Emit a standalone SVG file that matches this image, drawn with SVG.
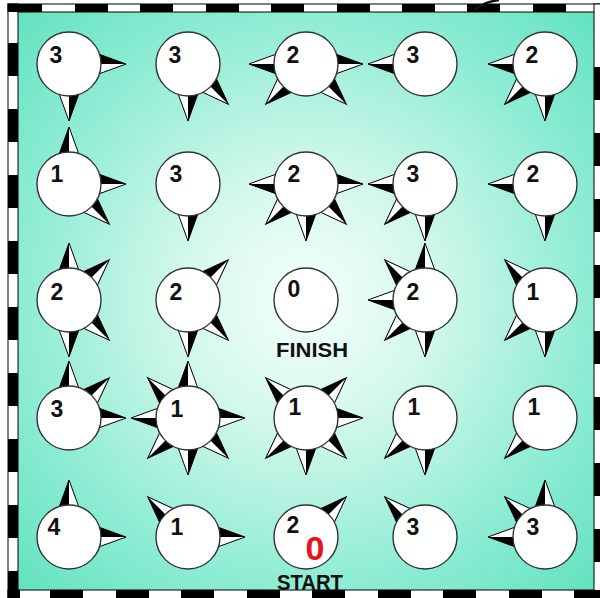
<svg xmlns="http://www.w3.org/2000/svg" xmlns:xlink="http://www.w3.org/1999/xlink" width="600" height="598" viewBox="0 0 600 598">
<style>
.b{fill:#000}
.w{fill:#fff}
.o{fill:none;stroke:#000;stroke-width:1;stroke-linejoin:miter}
.c{fill:#fff;stroke:#333;stroke-width:1.4}
.num{font-family:"Liberation Sans",Arial,sans-serif;font-weight:bold;font-size:23px;fill:#111;text-anchor:middle}
.lbl{font-family:"Liberation Sans",Arial,sans-serif;font-weight:bold;fill:#111;text-anchor:middle}
.dash{fill:#000}
.strip{fill:#fff;stroke:#000;stroke-width:1}
</style>
<defs>
<radialGradient id="bg" gradientUnits="userSpaceOnUse" cx="305" cy="300" r="410">
<stop offset="0" stop-color="#f6fffc"/>
<stop offset="0.3" stop-color="#d4f8ec"/>
<stop offset="0.7" stop-color="#8decd3"/>
<stop offset="1" stop-color="#62e2c0"/>
</radialGradient>
<g id="spk">
<polygon class="w" points="24,0 57,0 24,12"/>
<polygon class="b" points="24,-12 57,0 24,0"/>
<polygon class="o" points="24,-12 57,0 24,12"/>
</g>
</defs>
<rect x="0" y="0" width="600" height="598" fill="#fff"/>
<rect x="18" y="12" width="576" height="578" fill="url(#bg)"/>
<g id="frame">
<rect class="strip" x="8" y="4" width="600" height="8"/>
<rect class="strip" x="8" y="4" width="10" height="600"/>
<rect class="strip" x="8" y="590" width="600" height="12"/>
<rect class="strip" x="594" y="4" width="12" height="600"/>
<g class="dash">
<rect x="8" y="4" width="34" height="8"/>
<rect x="75" y="4" width="33" height="8"/>
<rect x="140" y="4" width="33" height="8"/>
<rect x="206" y="4" width="33" height="8"/>
<rect x="271" y="4" width="33" height="8"/>
<rect x="337" y="4" width="33" height="8"/>
<rect x="402" y="4" width="33" height="8"/>
<rect x="467" y="4" width="33" height="8"/>
<rect x="533" y="4" width="33" height="8"/>
<rect x="8" y="43" width="10" height="33"/>
<rect x="8" y="109" width="10" height="33"/>
<rect x="8" y="175" width="10" height="33"/>
<rect x="8" y="241" width="10" height="33"/>
<rect x="8" y="307" width="10" height="33"/>
<rect x="8" y="373" width="10" height="33"/>
<rect x="8" y="439" width="10" height="33"/>
<rect x="8" y="505" width="10" height="33"/>
<rect x="8" y="571" width="10" height="27"/>
<rect x="8" y="590" width="12" height="8"/>
<rect x="50" y="590" width="33" height="8"/>
<rect x="116" y="590" width="33" height="8"/>
<rect x="181" y="590" width="33" height="8"/>
<rect x="247" y="590" width="33" height="8"/>
<rect x="312" y="590" width="33" height="8"/>
<rect x="378" y="590" width="33" height="8"/>
<rect x="443" y="590" width="33" height="8"/>
<rect x="509" y="590" width="33" height="8"/>
<rect x="574" y="590" width="26" height="8"/>
<rect x="594" y="67" width="6" height="33"/>
<rect x="594" y="133" width="6" height="33"/>
<rect x="594" y="199" width="6" height="33"/>
<rect x="594" y="265" width="6" height="33"/>
<rect x="594" y="331" width="6" height="33"/>
<rect x="594" y="397" width="6" height="33"/>
<rect x="594" y="463" width="6" height="33"/>
<rect x="594" y="529" width="6" height="33"/>
</g>
<path d="M474,10 Q484,2 499,0" fill="none" stroke="#111" stroke-width="2.5"/>
</g>

<!-- Row 1 -->
<g id="n11" transform="translate(69,64)">
<use href="#spk" transform="rotate(0)"/><use href="#spk" transform="rotate(90)"/>
<circle class="c" r="32"/><text class="num" x="-13" y="-1">3</text></g>
<g id="n12" transform="translate(188,64)">
<use href="#spk" transform="rotate(90)"/><use href="#spk" transform="rotate(45)"/>
<circle class="c" r="32"/><text class="num" x="-13" y="-1">3</text></g>
<g id="n13" transform="translate(306,64)">
<use href="#spk" transform="rotate(180)"/><use href="#spk" transform="rotate(135)"/><use href="#spk" transform="rotate(45)"/><use href="#spk" transform="rotate(0)"/>
<circle class="c" r="32"/><text class="num" x="-13" y="-1">2</text></g>
<g id="n14" transform="translate(425,64)">
<use href="#spk" transform="rotate(180)"/>
<circle class="c" r="32"/><text class="num" x="-12" y="-1">3</text></g>
<g id="n15" transform="translate(545,64)">
<use href="#spk" transform="rotate(180)"/><use href="#spk" transform="rotate(135)"/><use href="#spk" transform="rotate(90)"/>
<circle class="c" r="32"/><text class="num" x="-13" y="-1">2</text></g>

<!-- Row 2 -->
<g id="n21" transform="translate(69,184)">
<use href="#spk" transform="rotate(270)"/><use href="#spk" transform="rotate(0)"/><use href="#spk" transform="rotate(45)"/>
<circle class="c" r="32"/><text class="num" x="-12" y="-2">1</text></g>
<g id="n22" transform="translate(188,184)">
<use href="#spk" transform="rotate(90)"/>
<circle class="c" r="32"/><text class="num" x="-12" y="-2">3</text></g>
<g id="n23" transform="translate(306,184)">
<use href="#spk" transform="rotate(180)"/><use href="#spk" transform="rotate(135)"/><use href="#spk" transform="rotate(90)"/><use href="#spk" transform="rotate(45)"/><use href="#spk" transform="rotate(0)"/>
<circle class="c" r="32"/><text class="num" x="-12" y="-2">2</text></g>
<g id="n24" transform="translate(425,184)">
<use href="#spk" transform="rotate(180)"/><use href="#spk" transform="rotate(135)"/><use href="#spk" transform="rotate(90)"/>
<circle class="c" r="32"/><text class="num" x="-12" y="-2">3</text></g>
<g id="n25" transform="translate(545,184)">
<use href="#spk" transform="rotate(180)"/><use href="#spk" transform="rotate(90)"/>
<circle class="c" r="32"/><text class="num" x="-12" y="-2">2</text></g>

<!-- Row 3 -->
<g id="n31" transform="translate(69,300)">
<use href="#spk" transform="rotate(270)"/><use href="#spk" transform="rotate(315)"/><use href="#spk" transform="rotate(45)"/><use href="#spk" transform="rotate(90)"/>
<circle class="c" r="32"/><text class="num" x="-12" y="0">2</text></g>
<g id="n32" transform="translate(188,300)">
<use href="#spk" transform="rotate(315)"/><use href="#spk" transform="rotate(45)"/><use href="#spk" transform="rotate(90)"/>
<circle class="c" r="32"/><text class="num" x="-12" y="0">2</text></g>
<g id="n33" transform="translate(306,300)">
<circle class="c" r="32"/><text class="num" x="-12" y="-3">0</text>
<text class="lbl" x="6" y="57" font-size="20" textLength="72" lengthAdjust="spacingAndGlyphs">FINISH</text></g>
<g id="n34" transform="translate(425,300)">
<use href="#spk" transform="rotate(270)"/><use href="#spk" transform="rotate(225)"/><use href="#spk" transform="rotate(180)"/><use href="#spk" transform="rotate(135)"/><use href="#spk" transform="rotate(90)"/>
<circle class="c" r="32"/><text class="num" x="-12" y="0">2</text></g>
<g id="n35" transform="translate(545,300)">
<use href="#spk" transform="rotate(225)"/><use href="#spk" transform="rotate(135)"/><use href="#spk" transform="rotate(90)"/>
<circle class="c" r="32"/><text class="num" x="-12" y="0">1</text></g>

<!-- Row 4 -->
<g id="n41" transform="translate(69,418)">
<use href="#spk" transform="rotate(270)"/><use href="#spk" transform="rotate(315)"/><use href="#spk" transform="rotate(0)"/>
<circle class="c" r="32"/><text class="num" x="-12" y="-1">3</text></g>
<g id="n42" transform="translate(188,418)">
<use href="#spk" transform="rotate(225)"/><use href="#spk" transform="rotate(270)"/><use href="#spk" transform="rotate(180)"/><use href="#spk" transform="rotate(0)"/><use href="#spk" transform="rotate(45)"/><use href="#spk" transform="rotate(90)"/><use href="#spk" transform="rotate(135)"/>
<circle class="c" r="32"/><text class="num" x="-11" y="-1">1</text></g>
<g id="n43" transform="translate(306,418)">
<use href="#spk" transform="rotate(225)"/><use href="#spk" transform="rotate(315)"/><use href="#spk" transform="rotate(0)"/><use href="#spk" transform="rotate(45)"/><use href="#spk" transform="rotate(90)"/><use href="#spk" transform="rotate(135)"/>
<circle class="c" r="32"/><text class="num" x="-11" y="-3">1</text></g>
<g id="n44" transform="translate(425,418)">
<use href="#spk" transform="rotate(135)"/><use href="#spk" transform="rotate(90)"/>
<circle class="c" r="32"/><text class="num" x="-11" y="-3">1</text></g>
<g id="n45" transform="translate(545,418)">
<use href="#spk" transform="rotate(135)"/>
<circle class="c" r="32"/><text class="num" x="-11" y="-3">1</text></g>

<!-- Row 5 -->
<g id="n51" transform="translate(69,537)">
<use href="#spk" transform="rotate(270)"/><use href="#spk" transform="rotate(0)"/>
<circle class="c" r="32"/><text class="num" x="-15" y="-2">4</text></g>
<g id="n52" transform="translate(188,537)">
<use href="#spk" transform="rotate(225)"/><use href="#spk" transform="rotate(0)"/>
<circle class="c" r="32"/><text class="num" x="-11" y="-2">1</text></g>
<g id="n53" transform="translate(306,537)">
<use href="#spk" transform="rotate(315)"/>
<circle class="c" r="32"/><text class="num" x="-13" y="-4">2</text>
<text x="9" y="23" font-family="Liberation Sans, Arial, sans-serif" font-weight="bold" font-size="34" fill="#e8121c" text-anchor="middle">0</text>
<text class="lbl" x="4" y="53" font-size="22" textLength="66" lengthAdjust="spacingAndGlyphs">START</text></g>
<g id="n54" transform="translate(425,537)">
<use href="#spk" transform="rotate(225)"/>
<circle class="c" r="32"/><text class="num" x="-12" y="-2">3</text></g>
<g id="n55" transform="translate(545,537)">
<use href="#spk" transform="rotate(270)"/><use href="#spk" transform="rotate(225)"/><use href="#spk" transform="rotate(180)"/>
<circle class="c" r="32"/><text class="num" x="-12" y="-2">3</text></g>
</svg>
